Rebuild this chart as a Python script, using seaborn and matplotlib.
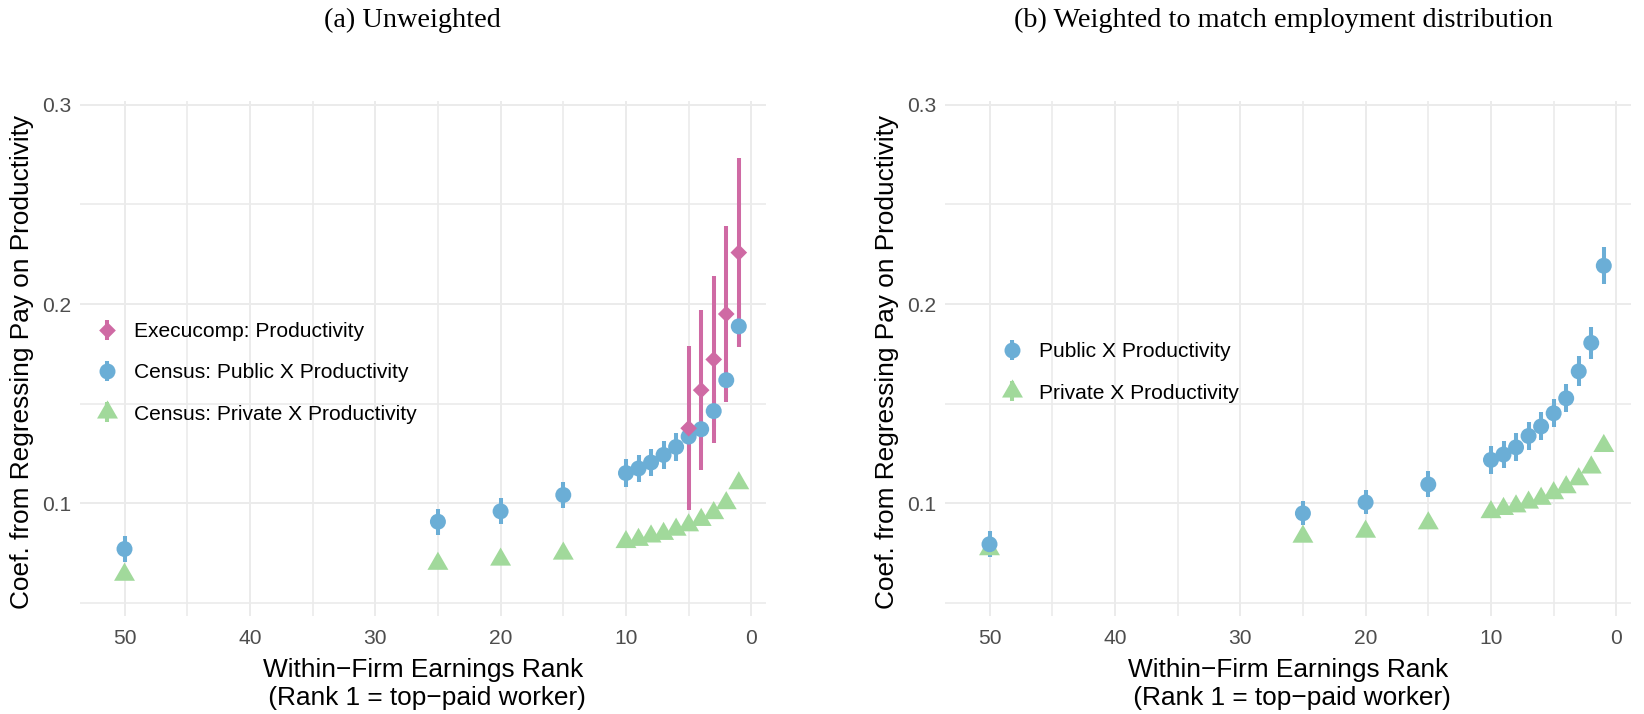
import numpy as np
import pandas as pd
import matplotlib
matplotlib.use("Agg")
import matplotlib.pyplot as plt
from matplotlib.lines import Line2D
from matplotlib.legend_handler import HandlerTuple
import seaborn as sns

# ---------------- data ----------------
ranks = [50, 25, 20, 15, 10, 9, 8, 7, 6, 5, 4, 3, 2, 1]
exec_ranks = [5, 4, 3, 2, 1]

# (a) Unweighted
exec_coef = [0.1377, 0.1568, 0.1722, 0.1950, 0.2258]
exec_err = [0.0410, 0.0400, 0.0420, 0.0440, 0.0475]
pub_a = [0.0771, 0.0908, 0.0960, 0.1042, 0.1152, 0.1175, 0.1205, 0.1243,
         0.1283, 0.1335, 0.1372, 0.1463, 0.1618, 0.1888]
pub_a_err = [0.0065, 0.0065, 0.0065, 0.0067, 0.0070, 0.0070, 0.0070, 0.0070,
             0.0070, 0.0070, 0.0077, 0.0080, 0.0088, 0.0103]
priv_a = [0.0642, 0.0697, 0.0718, 0.0748, 0.0806, 0.0817, 0.0834, 0.0847,
          0.0868, 0.0890, 0.0917, 0.0951, 0.1001, 0.1101]
priv_a_err = [0.0020, 0.0020, 0.0020, 0.0020, 0.0020, 0.0020, 0.0020, 0.0020,
              0.0020, 0.0020, 0.0020, 0.0020, 0.0020, 0.0025]

# (b) Weighted
pub_b = [0.0795, 0.0950, 0.1005, 0.1095, 0.1218, 0.1245, 0.1281, 0.1338,
         0.1386, 0.1452, 0.1527, 0.1662, 0.1805, 0.2192]
pub_b_err = [0.0065, 0.0060, 0.0060, 0.0065, 0.0070, 0.0070, 0.0070, 0.0070,
             0.0070, 0.0070, 0.0070, 0.0075, 0.0082, 0.0092]
priv_b = [0.0770, 0.0833, 0.0858, 0.0900, 0.0956, 0.0972, 0.0985, 0.1004,
          0.1023, 0.1051, 0.1081, 0.1121, 0.1180, 0.1288]
priv_b_err = [0.0020, 0.0020, 0.0020, 0.0020, 0.0020, 0.0020, 0.0020, 0.0020,
              0.0020, 0.0020, 0.0020, 0.0020, 0.0020, 0.0025]

titles = ["(a) Unweighted", "(b) Weighted to match employment distribution"]
labels_a = ["Execucomp: Productivity", "Census: Public X Productivity",
            "Census: Private X Productivity"]
labels_b = ["Public X Productivity", "Private X Productivity"]
xticks = [50, 40, 30, 20, 10, 0]
yticks = [0.1, 0.2, 0.3]
xlabel = "Within\u2212Firm Earnings Rank\n (Rank 1 = top\u2212paid worker)"
ylabel = "Coef. from Regressing Pay on Productivity"

# ---------------- style ----------------
PINK = "#CF6AA4"
BLUE = "#6BAED6"
GREEN = "#A1D99B"
GRID = "#EBEBEB"
TICKC = "#4D4D4D"

sns.set_theme(style="whitegrid")
plt.rcParams["font.family"] = ["Liberation Sans", "DejaVu Sans"]

TRI = [(0, 1), (-0.866, -0.5), (0.866, -0.5)]
DIA = [(0, 1), (1, 0), (0, -1), (-1, 0)]

W, H = 1644, 714
fig = plt.figure(figsize=(W / 100, H / 100), dpi=100)

ax_l, ax_r, ax_w = 80, 945, 686
ax_top, ax_bot = 100.7, 616
axes = []
for left in (ax_l, ax_r):
    ax = fig.add_axes([left / W, (H - ax_bot) / H, ax_w / W, (ax_bot - ax_top) / H])
    axes.append(ax)

BAR_LW = 2.9
S_CIRC = 11.5 ** 2
S_DIA = 12.0 ** 2
S_TRI = 17.4 ** 2


def draw_series(ax, x, y, err, color, marker, size):
    df = pd.DataFrame({"x": x, "y": y, "lo": np.array(y) - np.array(err),
                       "hi": np.array(y) + np.array(err)})
    ax.vlines(df["x"], df["lo"], df["hi"], color=color, linewidth=BAR_LW, zorder=3)
    sns.scatterplot(data=df, x="x", y="y", ax=ax, color=color, marker=marker,
                    s=size, linewidth=0, edgecolor="none", zorder=4, legend=False)


def key(color, marker, ms):
    bar = Line2D([], [], linestyle="none", marker="|", markersize=15,
                 markeredgewidth=BAR_LW, color=color)
    pt = Line2D([], [], linestyle="none", marker=marker, markersize=ms,
                color=color, markeredgewidth=0)
    return (bar, pt)


LEG_KW = dict(handler_map={tuple: HandlerTuple(ndivide=1)}, loc="center left",
              frameon=False, fontsize=15.1, handlelength=1.0, handletextpad=0.77,
              labelspacing=1.06, borderpad=0, borderaxespad=0, labelcolor="black")

# panel a
ax = axes[0]
draw_series(ax, ranks, priv_a, priv_a_err, GREEN, TRI, S_TRI)
draw_series(ax, ranks, pub_a, pub_a_err, BLUE, "o", S_CIRC)
draw_series(ax, exec_ranks, exec_coef, exec_err, PINK, DIA, S_DIA)
handles_a = [key(PINK, DIA, 12.0), key(BLUE, "o", 11.5), key(GREEN, TRI, 17.4)]
ax.legend(handles_a, labels_a,
          bbox_to_anchor=((97 - ax_l) / ax_w, (ax_bot - 373) / (ax_bot - ax_top)),
          **LEG_KW)

# panel b
ax = axes[1]
draw_series(ax, ranks, priv_b, priv_b_err, GREEN, TRI, S_TRI)
draw_series(ax, ranks, pub_b, pub_b_err, BLUE, "o", S_CIRC)
handles_b = [key(BLUE, "o", 11.5), key(GREEN, TRI, 17.4)]
ax.legend(handles_b, labels_b,
          bbox_to_anchor=((1002 - ax_r) / ax_w, (ax_bot - 372.5) / (ax_bot - ax_top)),
          **LEG_KW)

for i, ax in enumerate(axes):
    ax.set_xlim(53.55, -1.17)
    ax.set_ylim(0.0435, 0.302)
    ax.set_xticks(xticks)
    ax.set_xticks([45, 35, 25, 15, 5], minor=True)
    ax.set_yticks(yticks)
    ax.set_yticks([0.05, 0.15, 0.25], minor=True)
    ax.set_xticklabels([str(t) for t in xticks])
    ax.set_yticklabels([f"{t:.1f}" for t in yticks])
    ax.grid(which="major", color=GRID, linewidth=1.4)
    ax.grid(which="minor", color=GRID, linewidth=1.2)
    ax.set_axisbelow(True)
    ax.set_facecolor("white")
    for sp in ax.spines.values():
        sp.set_visible(False)
    ax.tick_params(which="both", length=0, labelsize=15.1, labelcolor=TICKC)
    ax.tick_params(axis="y", pad=6)
    ax.tick_params(axis="x", pad=9)
    ax.set_xlabel(xlabel, fontsize=18.9, color="black", linespacing=1.23)
    ax.set_ylabel(ylabel, fontsize=18.9, color="black", va="center")
    ax.xaxis.set_label_coords(0.5, (ax_bot - 684) / (ax_bot - ax_top))
    ax.xaxis.label.set_va("center")
    ax.yaxis.set_label_coords((22 - 80) / ax_w, (ax_bot - 362) / (ax_bot - ax_top))

fig.text(412 / W, 1 - 20 / H, titles[0], ha="center", va="center",
         fontsize=20.3, family="Liberation Serif", color="black")
fig.text(1283 / W, 1 - 20 / H, titles[1], ha="center", va="center",
         fontsize=20.3, family="Liberation Serif", color="black")

fig.savefig("out.png", dpi=100, facecolor="white")
